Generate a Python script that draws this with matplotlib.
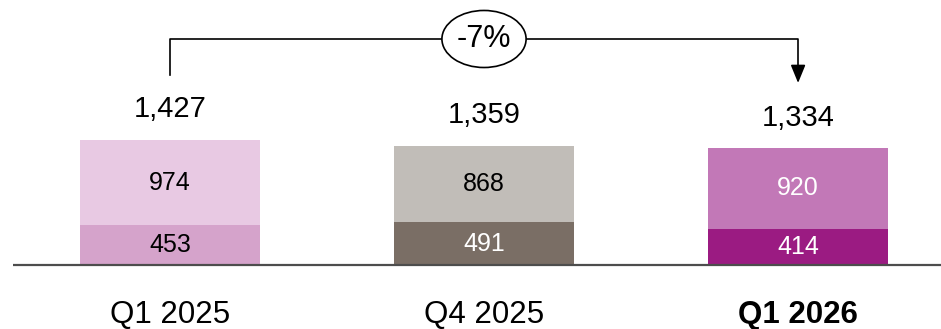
import matplotlib.pyplot as plt
from matplotlib.patches import Ellipse

plt.rcParams['font.family'] = ['Liberation Sans', 'DejaVu Sans']

quarters = ['Q1 2025', 'Q4 2025', 'Q1 2026']
bottom_vals = [453, 491, 414]
top_vals = [974, 868, 920]
bottom_colors = ['#d5a3cb', '#7a6e65', '#9b1b82']
top_colors = ['#e8c9e3', '#c1bdb8', '#c278b7']
bottom_text = ['black', 'white', 'white']
top_text = ['black', 'black', 'white']
change_label = '-7%'

totals = [b + t for b, t in zip(bottom_vals, top_vals)]
x = list(range(len(quarters)))

fig = plt.figure(figsize=(9.41, 3.29), dpi=100)
ax = fig.add_axes([0, 0, 1, 1])
ax.set_xlim(-0.541, 2.455)
ax.set_ylim(-730, 3025)
ax.axis('off')

w = 0.573
ax.bar(x, bottom_vals, width=w, color=bottom_colors, zorder=2)
ax.bar(x, top_vals, width=w, bottom=bottom_vals, color=top_colors, zorder=2)
ax.plot([-0.5, 2.455], [0, 0], color='#4d4d4d', lw=1.6, zorder=3,
        solid_capstyle='butt')

for i in x:
    ax.text(i, bottom_vals[i] / 2, str(bottom_vals[i]), ha='center', va='center',
            fontsize=18, color=bottom_text[i], zorder=4)
    ax.text(i, bottom_vals[i] + top_vals[i] / 2, str(top_vals[i]), ha='center',
            va='center', fontsize=18, color=top_text[i], zorder=4)
    ax.text(i, totals[i] + 257, f'{totals[i]:,}', ha='center', va='baseline',
            fontsize=21)
    ax.text(i, -662, quarters[i], ha='center', va='baseline', fontsize=22.5,
            fontweight='bold' if i == 2 else 'normal')

# bracket from first to last bar with the change in an ellipse
y_top = 2580
ax.plot([0, 0, 2, 2], [totals[0] + 742, y_top, y_top, 2230], color='black', lw=1.2)
ax.annotate('', xy=(2, 2078), xytext=(2, 2260),
            arrowprops=dict(arrowstyle='-|>,head_length=1.1,head_width=0.45',
                            color='black', lw=1.2, shrinkA=0, shrinkB=0))
ax.add_patch(Ellipse((1, y_top), 0.268, 651, facecolor='white',
                     edgecolor='black', lw=1.2, zorder=5))
ax.text(1, y_top, change_label, ha='center', va='center', fontsize=22, zorder=6)

fig.savefig('out.png', dpi=100)
